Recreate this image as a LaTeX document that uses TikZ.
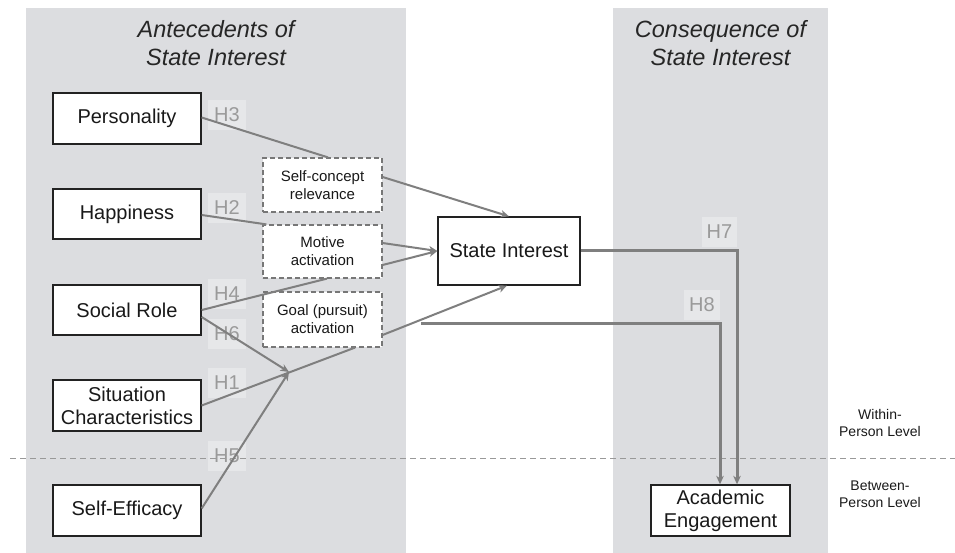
\documentclass[tikz,border=0pt]{standalone}
\usepackage{fontspec}
\setmainfont{Liberation Sans}
\usetikzlibrary{arrows.meta,calc}
\definecolor{panelbg}{HTML}{DCDDE0}
\definecolor{labelbg}{HTML}{E6E7E9}
\definecolor{labeltx}{HTML}{9A9A9A}
\definecolor{arrowc}{HTML}{7F7F7F}
\definecolor{boxline}{HTML}{222222}
\definecolor{dashc}{HTML}{777777}
\begin{document}
\begin{tikzpicture}[x=1pt,y=-1pt,
  solidbox/.style={draw=boxline,line width=1.3pt,fill=white,minimum width=148pt,minimum height=51pt,inner sep=0pt,align=center,font=\fontsize{20}{24}\selectfont,text=black!90},
  dashbox/.style={draw=dashc,dash pattern=on 5pt off 3pt,line width=1.2pt,fill=white,minimum width=119pt,minimum height=54pt,inner sep=0pt,align=center,font=\fontsize{15}{18}\selectfont,text=black!90},
  hlabel/.style={fill=labelbg,text=labeltx,minimum width=38pt,minimum height=30pt,inner sep=0pt,font=\fontsize{20}{24}\selectfont},
  title/.style={align=center,font=\fontsize{23.5}{28}\selectfont\itshape,text=black!85},
  levtext/.style={align=center,font=\fontsize{14}{17.5}\selectfont,text=black!90},
  conn/.style={draw=arrowc,line width=2pt},
  tip/.style={-{Stealth[length=8.5pt,width=7.5pt,inset=2.5pt]}},
  thickconn/.style={draw=arrowc,line width=3pt}
]
\useasboundingbox (0,0) rectangle (955,553);
% panels
\fill[panelbg] (26,8) rectangle (406,553);
\fill[panelbg] (613,8) rectangle (828,553);
\node[title] (t1) at (216,43) {Antecedents of\\State Interest};
\node[title] (t2) at (720.5,43) {Consequence of\\State Interest};
% H labels
\node[hlabel] (h3) at (227,115) {H3};
\node[hlabel] (h2) at (227,208) {H2};
\node[hlabel] (h4) at (227,293.5) {H4};
\node[hlabel] (h6) at (227,333.5) {H6};
\node[hlabel] (h1) at (227,382.5) {H1};
\node[hlabel] (h5) at (227,456) {H5};
\node[hlabel,minimum width=35pt] (h7) at (719.5,232) {H7};
\node[hlabel,minimum width=36pt] (h8) at (702,305) {H8};
% level line
\coordinate (ll) at (10,458);
\coordinate (lr) at (955,458);
\draw[draw=black!40,line width=1pt,dash pattern=on 6pt off 4pt] (ll) -- (lr);
\node[levtext] (within) at (880,423) {Within-\\Person Level};
\node[levtext] (between) at (880,494) {Between-\\Person Level};
% boxes
\node[solidbox] (pers) at (127,118.5) {Personality};
\node[solidbox,minimum height=50pt] (happy) at (127,214) {Happiness};
\node[solidbox,minimum height=50pt] (social) at (127,310) {Social Role};
\node[solidbox] (situ) at (127,405.5) {Situation\\[-1pt]Characteristics};
\node[solidbox] (selfeff) at (127,510.5) {Self-Efficacy};
\node[dashbox] (selfc) at (322.5,185) {Self-concept\\relevance};
\node[dashbox,minimum height=53pt] (motive) at (322.5,251.5) {Motive\\activation};
\node[dashbox,minimum height=55pt] (goal) at (322.5,319.5) {Goal (pursuit)\\activation};
\node[solidbox,minimum width=142pt,minimum height=68pt] (si) at (509,251) {State Interest};
\node[solidbox,minimum width=139pt] (ae) at (720.5,510.5) {Academic\\[-1pt]Engagement};
% connectors
\coordinate (meet) at (289,372);
\coordinate (h8start) at (421,323);
\draw[conn] ([yshift=1pt]pers.east) -- ([xshift=5.5pt]selfc.north);
\draw[conn,tip] ([yshift=8pt]selfc.east) -- (si.north);
\draw[conn] ([yshift=-1pt]happy.east) -- ([xshift=4pt]motive.north west);
\draw[conn,tip] ([yshift=8.5pt]motive.east) -- (si.west);
\draw[conn] (social.east) -- ([xshift=4.5pt]motive.south);
\draw[conn,tip] ([yshift=-13.5pt]motive.east) -- (si.west);
\draw[conn,tip] ([yshift=-7pt]social.east) -- (meet);
\draw[conn] (situ.east) -- ([xshift=32.5pt]goal.south);
\draw[conn,tip] ([yshift=-15.5pt]goal.east) -- ([xshift=-2pt]si.south);
\draw[conn,tip] ([yshift=2pt]selfeff.east) -- (meet);
\draw[thickconn,tip] (si.east) -| ([xshift=16.5pt]ae.north);
\draw[thickconn,tip] (h8start) -| ([xshift=-0.5pt]ae.north);
\end{tikzpicture}
\end{document}
